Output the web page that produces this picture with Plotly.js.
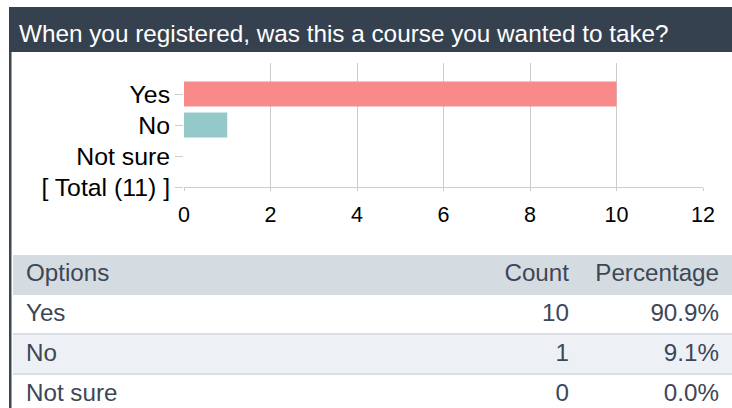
<!DOCTYPE html>
<html>
<head>
<meta charset="utf-8">
<script src="https://cdn.plot.ly/plotly-3.0.1.min.js"></script>
<style>
  html, body { margin: 0; padding: 0; background: #ffffff; overflow: hidden; }
  #chart { width: 732px; height: 416px; }
</style>
</head>
<body>
<div id="chart"></div>
<script>
// ---- data ----
const titleText = "When you registered, was this a course you wanted to take?";
const options = ["Yes", "No", "Not sure"];
const counts = [10, 1, 0];
const percentages = ["90.9%", "9.1%", "0.0%"];
const totalLabel = "[ Total (11) ]";
const barColors = ["#f98a8a", "#95c8c8", "#cccccc"];
const xTicks = [0, 2, 4, 6, 8, 10, 12];
const tableHeader = ["Options", "Count", "Percentage"];

// ---- layout helpers (pixel geometry) ----
const W = 732, H = 416;
const px = x => x / W;
const py = y => 1 - y / H;
const FONT = "Liberation Sans, Arial, Helvetica, sans-serif";
const TXT = "#3d4756";

const categoryOrder = [totalLabel].concat(options.slice().reverse());

const bar = {
  type: "bar",
  orientation: "h",
  x: counts,
  y: options,
  marker: { color: barColors.slice(0, options.length), line: { width: 0 } },
  width: 0.8,
  hoverinfo: "none",
  showlegend: false
};

const table = {
  type: "table",
  domain: { x: [px(18), px(727)], y: [py(415), py(255)] },
  columnwidth: [429, 130, 150],
  header: {
    values: tableHeader,
    align: ["left", "right", "right"],
    height: 40,
    font: { family: FONT, size: 24.2, color: TXT },
    fill: { color: "rgba(0,0,0,0)" },
    line: { color: "rgba(0,0,0,0)", width: 0 }
  },
  cells: {
    values: [options, counts.map(String), percentages],
    align: ["left", "right", "right"],
    height: 40,
    font: { family: FONT, size: 24.2, color: TXT },
    fill: { color: "rgba(0,0,0,0)" },
    line: { color: "rgba(0,0,0,0)", width: 0 }
  }
};

const dark = "#36414f";
const shapes = [
  { type: "rect", xref: "paper", yref: "paper", layer: "below",
    x0: px(9), x1: 1, y0: py(52), y1: py(7), fillcolor: dark, line: { width: 0 } },
  { type: "rect", xref: "paper", yref: "paper", layer: "below",
    x0: px(9), x1: px(11.5), y0: 0, y1: py(52), fillcolor: "#3c4654", line: { width: 0 } },
  { type: "rect", xref: "paper", yref: "paper", layer: "below",
    x0: px(13), x1: 1, y0: py(295), y1: py(255), fillcolor: "#d5dce1", line: { width: 0 } },
  { type: "rect", xref: "paper", yref: "paper", layer: "below",
    x0: px(13), x1: 1, y0: py(335), y1: py(333), fillcolor: "#d9dfe4", line: { width: 0 } },
  { type: "rect", xref: "paper", yref: "paper", layer: "below",
    x0: px(13), x1: 1, y0: py(373), y1: py(335), fillcolor: "#edf1f5", line: { width: 0 } },
  { type: "rect", xref: "paper", yref: "paper", layer: "below",
    x0: px(13), x1: 1, y0: py(375), y1: py(373), fillcolor: "#d9dfe4", line: { width: 0 } }
];

const layout = {
  width: W,
  height: H,
  margin: { l: 0, r: 0, t: 0, b: 0, pad: 0 },
  paper_bgcolor: "#ffffff",
  plot_bgcolor: "rgba(0,0,0,0)",
  font: { family: FONT, color: "#000000" },
  title: {
    text: titleText,
    font: { family: FONT, size: 24.3, color: "#ffffff" },
    x: px(19), xref: "paper", xanchor: "left",
    y: 1 - 33 / H, yref: "container", yanchor: "middle"
  },
  xaxis: {
    domain: [px(184), px(703)],
    range: [0, 12],
    tickvals: xTicks,
    ticktext: xTicks.map(String),
    showgrid: true,
    gridcolor: "#cccccc",
    gridwidth: 1,
    zeroline: false,
    showline: true,
    linecolor: "#cccccc",
    linewidth: 1,
    ticks: "outside",
    ticklen: 3,
    tickcolor: "#cccccc",
    ticklabelstandoff: 5,
    tickfont: { family: FONT, size: 21.5, color: "#000000" },
    fixedrange: true
  },
  yaxis: {
    domain: [py(187), py(63)],
    type: "category",
    categoryorder: "array",
    categoryarray: categoryOrder,
    tickvals: categoryOrder,
    range: [0, 4],
    showgrid: false,
    zeroline: false,
    showline: false,
    ticks: "outside",
    ticklen: 8,
    tickcolor: "#cccccc",
    tickfont: { family: FONT, size: 24.8, color: "#000000" },
    fixedrange: true
  },
  bargap: 0.2,
  shapes: shapes,
  showlegend: false
};

Plotly.newPlot("chart", [bar, table], layout, { staticPlot: true, displayModeBar: false, responsive: false });
</script>
</body>
</html>
